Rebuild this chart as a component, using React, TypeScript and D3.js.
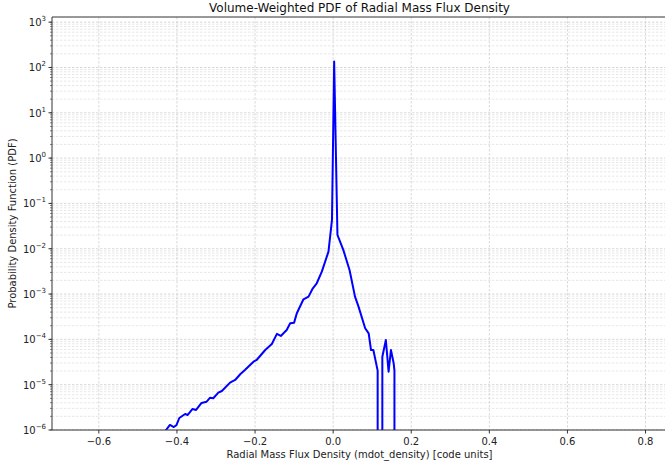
import React, { useRef, useEffect } from 'react';
import * as d3 from 'd3';

// bin centres (code units) and volume-weighted PDF values
const fluxBins = [
  -0.435, -0.428, -0.418, -0.408, -0.401, -0.394, -0.379, -0.373, -0.360, -0.351,
  -0.337, -0.324, -0.315, -0.307, -0.294, -0.285, -0.264, -0.251, -0.238, -0.226,
  -0.204, -0.196, -0.174, -0.157, -0.144, -0.134, -0.119, -0.110, -0.100, -0.093,
  -0.076, -0.063, -0.052, -0.042, -0.029, -0.012, -0.003, 0.0026, 0.011, 0.026,
  0.042, 0.056, 0.065, 0.082, 0.091, 0.097, 0.103, 0.114, 0.120, 0.126,
  0.135, 0.142, 0.148, 0.155, 0.157, 0.163,
];
const pdfValues = [
  0, 1.0e-6, 1.29e-6, 1.16e-6, 1.29e-6, 1.84e-6, 2.26e-6, 2.14e-6, 2.91e-6, 2.77e-6,
  3.95e-6, 4.22e-6, 5.17e-6, 5.01e-6, 6.66e-6, 7.26e-6, 1.11e-5, 1.27e-5, 1.7e-5, 2.11e-5,
  3.22e-5, 3.51e-5, 5.83e-5, 7.91e-5, 1.32e-4, 1.19e-4, 1.61e-4, 2.27e-4, 2.34e-4, 3.77e-4,
  7.67e-4, 8.77e-4, 1.34e-3, 1.73e-3, 3.12e-3, 8.63e-3, 4.33e-2, 135, 2.02e-2, 9.42e-3,
  3.4e-3, 8.77e-4, 5.27e-4, 1.76e-4, 1.36e-4, 5.83e-5, 5.83e-5, 2.04e-5, 0, 4.15e-5,
  9.7e-5, 1.94e-5, 5.83e-5, 2.97e-5, 2.04e-5, 0,
];
const xTicks = [-0.6, -0.4, -0.2, 0.0, 0.2, 0.4, 0.6, 0.8];
const yExponents = [-6, -5, -4, -3, -2, -1, 0, 1, 2, 3];

const FONT = 'DejaVu Sans, sans-serif';

const App = () => {
  const ref = useRef(null);

  useEffect(() => {
    document.body.style.margin = '0';
    if (!ref.current) return;
    const root = d3.select(ref.current);
    root.selectAll('*').remove();

    const W = 665, H = 464;
    const margin = { top: 17, left: 52, bottom: 34, right: -2 };
    const width = W - margin.left - margin.right;
    const height = H - margin.top - margin.bottom;

    const svg = root.append('svg').attr('width', W).attr('height', H)
      .style('display', 'block').attr('font-family', FONT);
    svg.append('rect').attr('width', W).attr('height', H).attr('fill', '#fff');

    svg.append('defs').append('clipPath').attr('id', 'plotclip')
      .append('rect').attr('width', width).attr('height', height);

    const g = svg.append('g').attr('transform', `translate(${margin.left},${margin.top})`);

    const x = d3.scaleLinear().domain([-0.72, 0.855]).range([0, width]);
    const y = d3.scaleLog().domain([1e-6, 1.3e3]).range([height, 0]);

    // horizontal grid (major + minor decades)
    const minorVals: number[] = [];
    yExponents.forEach(e => {
      for (let m = 1; m <= 9; m++) {
        const v = m * Math.pow(10, e);
        if (v >= 1e-6 && v <= 1.3e3) minorVals.push(v);
      }
    });
    g.append('g').selectAll('line').data(minorVals).join('line')
      .attr('x1', 0).attr('x2', width)
      .attr('y1', d => y(d)).attr('y2', d => y(d))
      .attr('stroke', d => (Math.abs(Math.log10(d) - Math.round(Math.log10(d))) < 1e-9 ? '#cfcfcf' : '#e2e2e2'))
      .attr('stroke-width', 0.8)
      .attr('stroke-dasharray', '2.5,1.5');

    // vertical grid
    g.append('g').selectAll('line').data(xTicks).join('line')
      .attr('x1', d => x(d)).attr('x2', d => x(d))
      .attr('y1', 0).attr('y2', height)
      .attr('stroke', '#cfcfcf').attr('stroke-width', 0.8)
      .attr('stroke-dasharray', '2.5,1.5');

    // curve (zero bins drop off the bottom like matplotlib's clipped log)
    const pts = fluxBins.map((b, i) => [b, pdfValues[i]] as [number, number]);
    const line = d3.line<[number, number]>()
      .x(d => x(d[0]))
      .y(d => (d[1] > 0 ? y(d[1]) : height + 100000));
    g.append('path').datum(pts)
      .attr('clip-path', 'url(#plotclip)')
      .attr('d', line)
      .attr('fill', 'none').attr('stroke', '#0000ff')
      .attr('stroke-width', 2).attr('stroke-linejoin', 'round');

    // spines
    const spine = '#333';
    g.append('line').attr('x1', 0).attr('x2', 0).attr('y1', 0).attr('y2', height)
      .attr('stroke', spine).attr('stroke-width', 1);
    g.append('line').attr('x1', 0).attr('x2', width).attr('y1', height).attr('y2', height)
      .attr('stroke', spine).attr('stroke-width', 1);
    g.append('line').attr('x1', 0).attr('x2', width).attr('y1', 0).attr('y2', 0)
      .attr('stroke', spine).attr('stroke-width', 1);

    // x ticks
    const xt = g.append('g').selectAll('g').data(xTicks).join('g')
      .attr('transform', d => `translate(${x(d)},${height})`);
    xt.append('line').attr('y2', 3.5).attr('stroke', spine);
    xt.append('text').attr('y', 15).attr('text-anchor', 'middle')
      .attr('font-size', 10).attr('fill', '#222')
      .text(d => d3.format('.1f')(d).replace('-', '\u2212'));

    // y minor ticks
    g.append('g').selectAll('line').data(minorVals).join('line')
      .attr('x1', -2).attr('x2', 0)
      .attr('y1', d => y(d)).attr('y2', d => y(d))
      .attr('stroke', spine).attr('stroke-width', 0.6);

    // y major ticks + labels
    const yt = g.append('g').selectAll('g').data(yExponents).join('g')
      .attr('transform', d => `translate(0,${y(Math.pow(10, d))})`);
    yt.append('line').attr('x1', -3.5).attr('x2', 0).attr('stroke', spine);
    const lbl = yt.append('text').attr('x', -6).attr('y', 4)
      .attr('text-anchor', 'end').attr('font-size', 10).attr('fill', '#222');
    lbl.append('tspan').text('10');
    lbl.append('tspan').attr('dy', -5).attr('font-size', 7)
      .text(d => String(d).replace('-', '\u2212'));

    // title and axis labels
    svg.append('text').attr('x', margin.left + width / 2).attr('y', 12)
      .attr('text-anchor', 'middle').attr('font-size', 12).attr('fill', '#111')
      .text('Volume-Weighted PDF of Radial Mass Flux Density');
    svg.append('text').attr('x', margin.left + width / 2).attr('y', 458)
      .attr('text-anchor', 'middle').attr('font-size', 10).attr('fill', '#222')
      .text('Radial Mass Flux Density (mdot_density) [code units]');
    svg.append('text')
      .attr('transform', `translate(16,${margin.top + height / 2}) rotate(-90)`)
      .attr('text-anchor', 'middle').attr('font-size', 10).attr('fill', '#222')
      .text('Probability Density Function (PDF)');
  }, []);

  return <div ref={ref} />;
};

export default App;
